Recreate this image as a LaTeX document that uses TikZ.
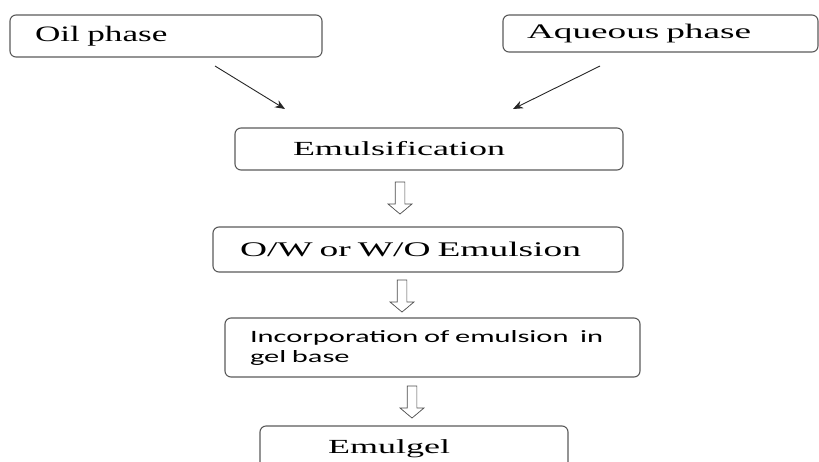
\documentclass[tikz,border=0pt]{standalone}
\usepackage{fontspec}
\setmainfont{Liberation Serif}[FakeStretch=1.8]
\newfontfamily\narrowserif{Liberation Serif}[FakeStretch=1.6]
\newfontfamily\bodysans{Carlito}[FakeStretch=1.76]
\usetikzlibrary{arrows.meta,shapes.arrows}
\definecolor{boxgrey}{RGB}{90,90,90}

\begin{document}
\begin{tikzpicture}[
  x=1pt, y=-1pt,
  font=\fontsize{20}{24}\selectfont,
  box/.style={draw=boxgrey, line width=1.1pt, rounded corners=6pt,
              align=left, inner ysep=0pt},
  arr/.style={-{Stealth[length=10pt,width=8pt]}, line width=0.9pt, draw=black!85},
  hollow/.style={single arrow, draw=black!70, fill=white, line width=0.7pt,
                 minimum height=32pt, inner sep=4.5pt, single arrow head extend=7pt,
                 single arrow tip angle=100, rotate=-90}
]
\useasboundingbox (0,0) rectangle (819,461);
\clip (0,0) rectangle (819,461);

% the two starting phases
\node[box, text width=262pt, inner xsep=25pt, minimum height=42pt,
      font=\narrowserif\fontsize{22}{26}\selectfont] (oil) at (166,36) {Oil phase};
\node[box, text width=267pt, inner xsep=24pt, minimum height=37pt,
      font=\fontsize{20.7}{24}\selectfont] (aq) at (660.5,33.5) {Aqueous phase};

% main chain
\node[box, text width=272pt, inner xsep=58pt, minimum height=42pt] (emul) at (429,149) {Emulsification};
\node[box, text width=356pt, inner xsep=27pt, minimum height=45pt,
      font=\fontsize{20.8}{25}\selectfont] (ow) at (418,249.5) {O/W or W/O Emulsion};
\node[box, text width=365pt, inner xsep=25pt, minimum height=59pt,
      font=\bodysans\fontsize{17.3}{20}\selectfont] (inc) at (432.5,347.5)
      {Incorporation of emulsion\ \ in\\gel base};
\node[box, text width=172pt, inner xsep=68pt, minimum height=46pt] (gel) at (414,449) {Emulgel};

% diagonal feeds into emulsification
\coordinate (oilout) at (215,66);
\coordinate (aqout)  at (600,66);
\coordinate (emulL)  at (285,109);
\coordinate (emulR)  at (513,109);
\draw[arr] (oilout) -- (emulL);
\draw[arr] (aqout)  -- (emulR);

% hollow down arrows between the steps
\node[hollow] (a1) at (400,196) {};
\node[hollow] (a2) at (402,294) {};
\node[hollow] (a3) at (412,400) {};
\end{tikzpicture}
\end{document}
